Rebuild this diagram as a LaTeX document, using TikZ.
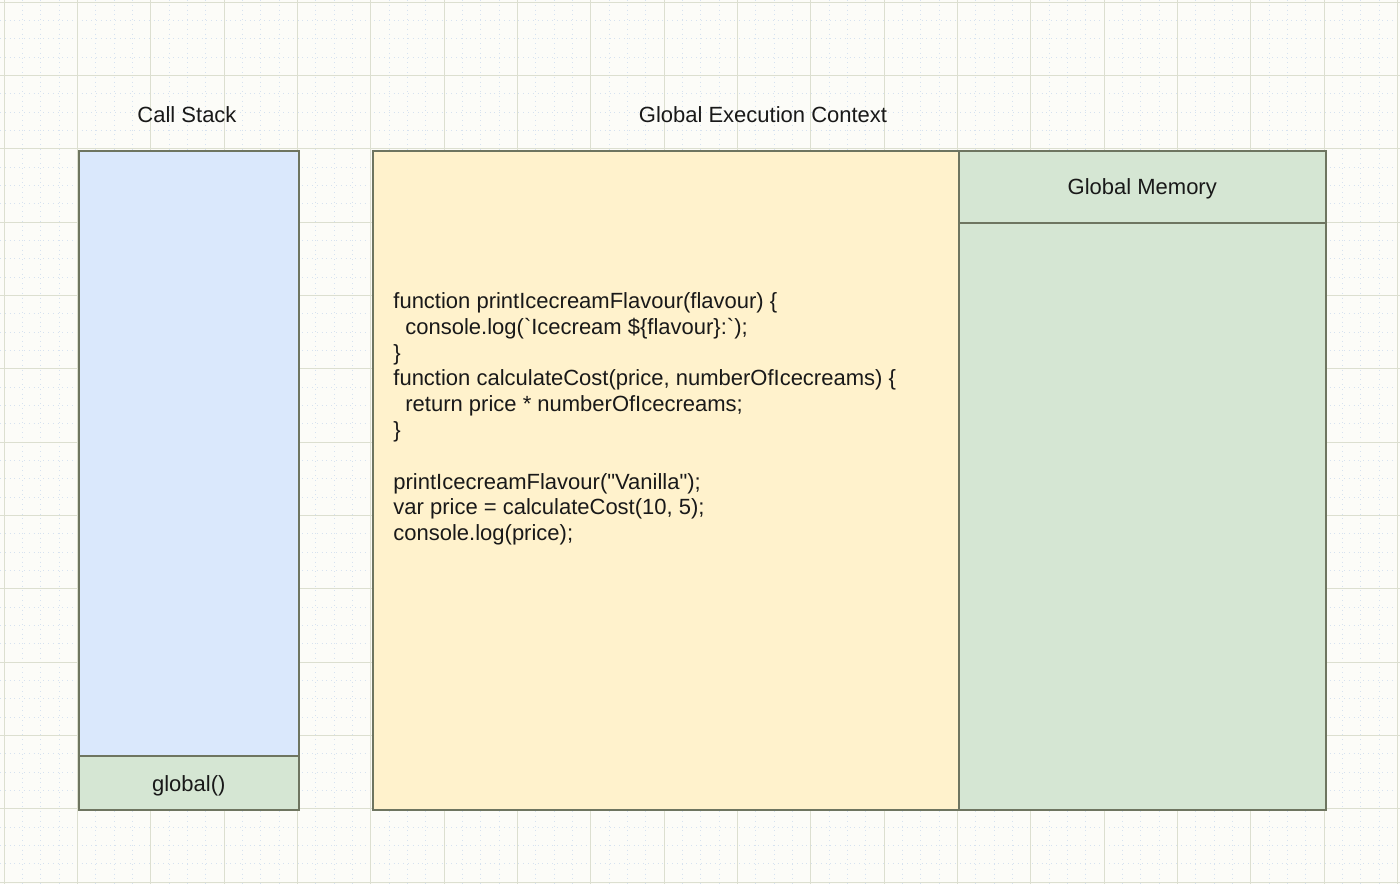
\documentclass[tikz,border=0pt]{standalone}
\usepackage{fontspec}
\setmainfont{Liberation Sans}
\newfontfamily\codefont{Liberation Sans}[Ligatures=TeXOff]
\usetikzlibrary{positioning}

\definecolor{paper}{HTML}{FCFCF8}
\definecolor{gridmajor}{HTML}{DCDFD0}
\definecolor{gridminor}{HTML}{D6E2F0}
\definecolor{edge}{HTML}{6E7560}
\definecolor{stackblue}{HTML}{DAE8FC}
\definecolor{memgreen}{HTML}{D5E6D3}
\definecolor{codeyellow}{HTML}{FFF2CC}

\tikzset{
  panel/.style={draw=edge, line width=0.75pt, rectangle, anchor=north west, inner sep=0pt},
  titletext/.style={font=\fontsize{11}{13}\selectfont, text=black!90, yshift=-0.8pt},
  codetext/.style={font=\codefont\fontsize{11}{12.9}\selectfont, text=black!90, align=left, inner sep=0pt},
}

\begin{document}
\begin{tikzpicture}[x=0.5pt, y=-0.5pt]

  \useasboundingbox (0,0) rectangle (1400,884);
  \fill[paper] (0,0) rectangle (1400,884);

  % -- Grid --
  \foreach \i in {0,...,76}
    \draw[gridminor, dotted, line width=0.4pt] ({4+18.333*\i},0) -- ++(0,884);
  \foreach \i in {0,...,48}
    \draw[gridminor, dotted, line width=0.4pt] (0,{2+18.333*\i}) -- ++(1400,0);
  \foreach \i in {0,...,19}
    \draw[gridmajor, line width=0.5pt] ({4+73.333*\i},0) -- ++(0,884);
  \foreach \i in {0,...,12}
    \draw[gridmajor, line width=0.5pt] (0,{2+73.333*\i}) -- ++(1400,0);

  % -- Call stack --
  \node[titletext] (stacktitle) at (187,113) {Call Stack};
  \node[panel, fill=stackblue, minimum width=110pt, minimum height=302.5pt] (stack) at (78,150) {};
  \node[panel, fill=memgreen, minimum width=110pt, minimum height=27pt] (globalfn) at (78,755) {};
  \node[titletext, yshift=-0.8pt] (globallbl) at (globalfn.center) {global()};

  % -- Global execution context --
  \node[titletext] (gectitle) at (763,113) {Global Execution Context};
  \node[panel, fill=codeyellow, minimum width=293pt, minimum height=329.5pt] (codebox) at (372,150) {};
  \node[codetext, anchor=west] (code) at (393,419) {%
    function printIcecreamFlavour(flavour) \{\\
    \hspace*{6pt}console.log(`Icecream \$\{flavour\}:`);\\
    \}\\
    function calculateCost(price, numberOfIcecreams) \{\\
    \hspace*{6pt}return price * numberOfIcecreams;\\
    \}\\
    \strut\\
    printIcecreamFlavour("Vanilla");\\
    var price = calculateCost(10, 5);\\
    console.log(price);};

  % -- Global memory --
  \node[panel, fill=memgreen, minimum width=183.5pt, minimum height=36pt] (memhead) at (958,150) {};
  \node[titletext] (memtitle) at (memhead.center) {Global Memory};
  \node[panel, fill=memgreen, minimum width=183.5pt, minimum height=293.5pt] (membody) at (958,222) {};

\end{tikzpicture}
\end{document}
